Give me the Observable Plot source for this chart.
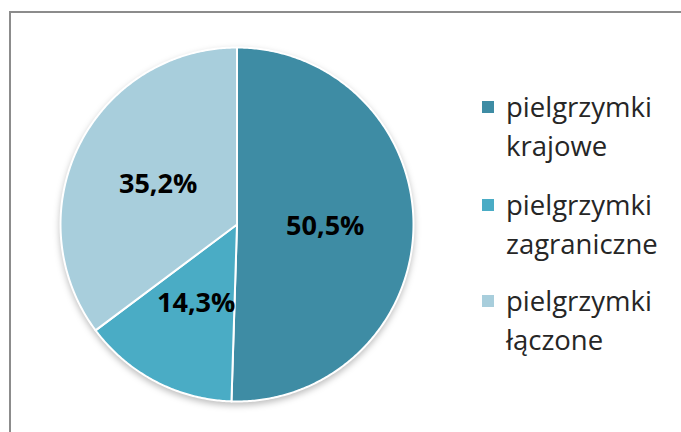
<!DOCTYPE html>
<html>
<head>
<meta charset="utf-8">
<script src="https://cdn.jsdelivr.net/npm/d3@7"></script>
<script src="https://cdn.jsdelivr.net/npm/@observablehq/plot@0.6"></script>
<style>
  html, body { margin: 0; padding: 0; background: #fff; overflow: hidden; }
  #wrap { position: relative; width: 681px; height: 432px; overflow: hidden; }
  #frame { position: absolute; left: 9px; top: 11px; width: 720px; height: 500px; border: 2px solid #8c8c8c; box-sizing: border-box; }
  #chart { position: absolute; left: 0; top: 0; }
  #legend { position: absolute; left: 482px; top: 0; font-family: "Open Sans", sans-serif; font-size: 27.5px; color: #262626; }
  .item { position: absolute; left: 0; width: 200px; }
  .sw { position: absolute; left: 0; width: 12px; height: 12px; }
  .lab { position: absolute; left: 24px; line-height: 39px; white-space: nowrap; }
</style>
</head>
<body>
<div id="wrap">
  <div id="frame"></div>
  <div id="chart"></div>
  <div id="legend"></div>
</div>
<script>
const categories = ["pielgrzymki krajowe", "pielgrzymki zagraniczne", "pielgrzymki łączone"];
const legendLines = [["pielgrzymki", "krajowe"], ["pielgrzymki", "zagraniczne"], ["pielgrzymki", "łączone"]];
const values = [50.5, 14.3, 35.2];
const labels = ["50,5%", "14,3%", "35,2%"];
const colors = ["#3e8ca4", "#4aacc5", "#a8cedc"];

// build slice outlines (angle from 12 o'clock, clockwise)
const pie = d3.pie().sort(null).value(d => d)(values);
const outline = [];
const labelPts = [];
pie.forEach((p, i) => {
  const a0 = p.startAngle, a1 = p.endAngle;
  outline.push({slice: categories[i], x: 0, y: 0});
  const n = Math.max(2, Math.ceil((a1 - a0) / 0.01));
  for (let k = 0; k <= n; k++) {
    const a = a0 + (a1 - a0) * k / n;
    outline.push({slice: categories[i], x: Math.sin(a), y: Math.cos(a)});
  }
  outline.push({slice: categories[i], x: 0, y: 0});
  const m = (a0 + a1) / 2;
  labelPts.push({label: labels[i], x: 0.5 * Math.sin(m), y: 0.5 * Math.cos(m)});
});

const chart = Plot.plot({
  width: 681,
  height: 432,
  marginLeft: 60,
  marginRight: 268,
  marginTop: 47,
  marginBottom: 31,
  x: {domain: [-1, 1], axis: null},
  y: {domain: [-1, 1], axis: null},
  color: {domain: categories, range: colors},
  style: {background: "transparent", overflow: "visible"},
  marks: [
    Plot.line(outline, {x: "x", y: "y", z: "slice", fill: "slice", stroke: "#ffffff", strokeWidth: 2, strokeLinejoin: "round", curve: "linear"}),
    Plot.text(labelPts, {x: "x", y: "y", text: "label", fontSize: 27, fontWeight: "bold", fill: "#000", fontFamily: "Open Sans"})
  ]
});
const lineG = chart.querySelector('g[aria-label="line"]');
if (lineG) lineG.style.filter = "drop-shadow(0px 3px 3px rgba(0,0,0,0.25))";
document.getElementById("chart").appendChild(chart);

// legend
const legend = document.getElementById("legend");
const tops = [87, 185, 281];
categories.forEach((c, i) => {
  const item = document.createElement("div");
  item.className = "item";
  item.style.top = tops[i] + "px";
  const sw = document.createElement("div");
  sw.className = "sw";
  sw.style.top = "14px";
  sw.style.background = colors[i];
  const lab = document.createElement("div");
  lab.className = "lab";
  lab.style.top = "0px";
  lab.innerHTML = legendLines[i].join("<br>");
  item.appendChild(sw);
  item.appendChild(lab);
  legend.appendChild(item);
});
</script>
</body>
</html>
